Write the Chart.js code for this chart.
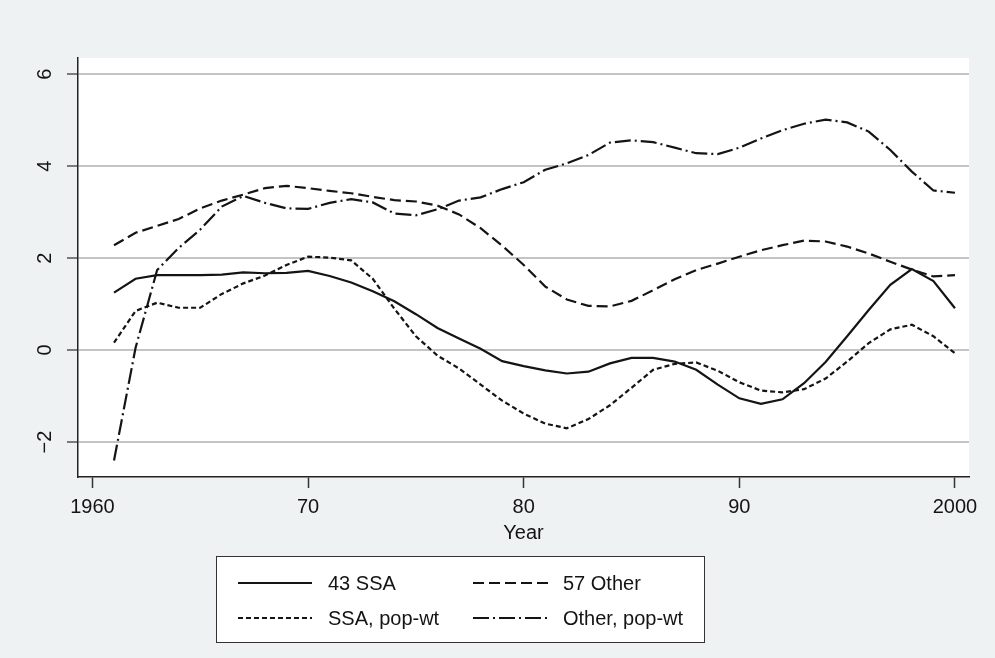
<!DOCTYPE html>
<html>
<head>
<meta charset="utf-8">
<script src="https://cdn.jsdelivr.net/npm/chart.js@4/dist/chart.umd.min.js"></script>
<style>
html,body{margin:0;padding:0;background:#eff2f2;}
canvas{display:block;}
</style>
</head>
<body>
<canvas id="c" width="995" height="658"></canvas>
<script>
const years = [1961,1962,1963,1964,1965,1966,1967,1968,1969,1970,
               1971,1972,1973,1974,1975,1976,1977,1978,1979,1980,
               1981,1982,1983,1984,1985,1986,1987,1988,1989,1990,
               1991,1992,1993,1994,1995,1996,1997,1998,1999,2000];
const ssa43 = [1.25,1.55,1.63,1.63,1.63,1.64,1.69,1.67,1.68,1.72,
               1.61,1.47,1.28,1.06,0.78,0.48,0.25,0.03,-0.24,-0.35,
               -0.44,-0.51,-0.47,-0.29,-0.17,-0.17,-0.25,-0.43,-0.75,-1.05,
               -1.17,-1.07,-0.72,-0.26,0.30,0.87,1.42,1.76,1.50,0.91];
const other57 = [2.28,2.55,2.70,2.85,3.08,3.25,3.38,3.52,3.57,3.52,
                 3.46,3.41,3.33,3.26,3.23,3.14,2.95,2.65,2.27,1.85,
                 1.38,1.10,0.96,0.95,1.07,1.30,1.54,1.74,1.88,2.03,
                 2.17,2.28,2.38,2.36,2.25,2.10,1.92,1.75,1.60,1.63];
const ssaPop = [0.16,0.85,1.03,0.92,0.92,1.22,1.45,1.62,1.85,2.03,
                2.01,1.95,1.55,0.90,0.30,-0.12,-0.40,-0.75,-1.10,-1.38,
                -1.60,-1.70,-1.50,-1.20,-0.82,-0.43,-0.30,-0.27,-0.45,-0.70,
                -0.88,-0.92,-0.85,-0.62,-0.25,0.15,0.45,0.55,0.30,-0.07];
const otherPop = [-2.40,0.05,1.74,2.22,2.62,3.12,3.35,3.20,3.08,3.07,
                  3.20,3.28,3.21,2.97,2.93,3.06,3.25,3.32,3.50,3.65,
                  3.92,4.06,4.24,4.51,4.56,4.52,4.40,4.28,4.26,4.40,
                  4.60,4.78,4.92,5.01,4.95,4.75,4.35,3.88,3.47,3.42];
const seriesNames = ['43 SSA','57 Other','SSA, pop-wt','Other, pop-wt'];
const xTickValues = [1960,1970,1980,1990,2000];
const xTickLabels = ['1960','70','80','90','2000'];
const yTickValues = [-2,0,2,4,6];
const yTickLabels = ['\u22122','0','2','4','6'];
const xTitle = 'Year';

const FONT = '"Liberation Sans", Arial, Helvetica, sans-serif';
const INK = '#141414';

function pts(vals){ return years.map((y,i)=>({x:y,y:vals[i]})); }

const bgPlugin = {
  id:'bg',
  beforeDraw(chart){
    const {ctx, chartArea:a} = chart;
    ctx.save();
    ctx.fillStyle = '#eff2f2';
    ctx.fillRect(0,0,chart.width,chart.height);
    ctx.fillStyle = '#ffffff';
    ctx.fillRect(a.left,a.top,a.right-a.left,a.bottom-a.top);
    ctx.restore();
  }
};

const legendPlugin = {
  id:'boxLegend',
  afterDraw(chart){
    const ctx = chart.ctx;
    const box = {l:216, t:556, w:488, h:86};
    ctx.save();
    ctx.fillStyle = '#ffffff';
    ctx.fillRect(box.l, box.t, box.w, box.h);
    ctx.strokeStyle = '#333';
    ctx.lineWidth = 1;
    ctx.strokeRect(box.l+0.5, box.t+0.5, box.w, box.h);
    const cols = [{s:238,e:312,t:328},{s:473,e:550,t:563}];
    const rows = [583, 618];
    chart.data.datasets.forEach((ds,i)=>{
      const c = cols[i%2], r = rows[Math.floor(i/2)];
      ctx.beginPath();
      ctx.setLineDash(ds.borderDash||[]);
      ctx.lineWidth = ds.borderWidth;
      ctx.strokeStyle = ds.borderColor;
      ctx.moveTo(c.s, r); ctx.lineTo(c.e, r);
      ctx.stroke();
      ctx.setLineDash([]);
      ctx.fillStyle = INK;
      ctx.font = '20px ' + FONT;
      ctx.textBaseline = 'middle';
      ctx.textAlign = 'left';
      ctx.fillText(ds.label, c.t, r+1);
    });
    ctx.restore();
  }
};

const mk = (i, vals, dash) => ({
  label: seriesNames[i], data: pts(vals), borderColor: INK, borderWidth: 2.2,
  borderDash: dash, pointRadius: 0, tension: 0, fill:false
});

new Chart(document.getElementById('c'), {
  type:'line',
  data:{ datasets:[
    mk(0, ssa43, []),
    mk(1, other57, [11,5]),
    mk(2, ssaPop, [5,3]),
    mk(3, otherPop, [16,4,2,4])
  ]},
  options:{
    responsive:false, animation:false, devicePixelRatio:1,
    layout:{padding:{left:0,right:26,top:58,bottom:111}},
    plugins:{legend:{display:false}, tooltip:{enabled:false}},
    scales:{
      x:{
        type:'linear', position:'bottom', min:1959.33, max:2000.65,
        afterBuildTicks:s=>{ s.ticks = xTickValues.map(v=>({value:v})); },
        afterFit:s=>{ s.height = 70; },
        ticks:{ callback:(v)=>xTickLabels[xTickValues.indexOf(v)], font:{family:FONT,size:20},
                color:INK, maxRotation:0, minRotation:0, autoSkip:false, padding:7 },
        grid:{ drawOnChartArea:false, drawTicks:true, tickLength:11, tickColor:'#333', tickWidth:1.5 },
        border:{ display:true, color:'#222', width:1.5 },
        title:{ display:true, text:xTitle, font:{family:FONT,size:20}, color:INK, padding:{top:0,bottom:2} }
      },
      y:{
        type:'linear', min:-2.76, max:6.35,
        afterBuildTicks:s=>{ s.ticks = yTickValues.map(v=>({value:v})); },
        afterFit:s=>{ s.width = 78; },
        ticks:{ callback:(v)=>yTickLabels[yTickValues.indexOf(v)], font:{family:FONT,size:20},
                color:INK, minRotation:90, maxRotation:90, crossAlign:'center', padding:10, autoSkip:false },
        grid:{ color:'#c3c4c8', lineWidth:2, drawTicks:true, tickLength:11, tickColor:'#555', tickWidth:1.5 },
        border:{ display:true, color:'#222', width:1.5 }
      }
    }
  },
  plugins:[bgPlugin, legendPlugin]
});
</script>
</body>
</html>
